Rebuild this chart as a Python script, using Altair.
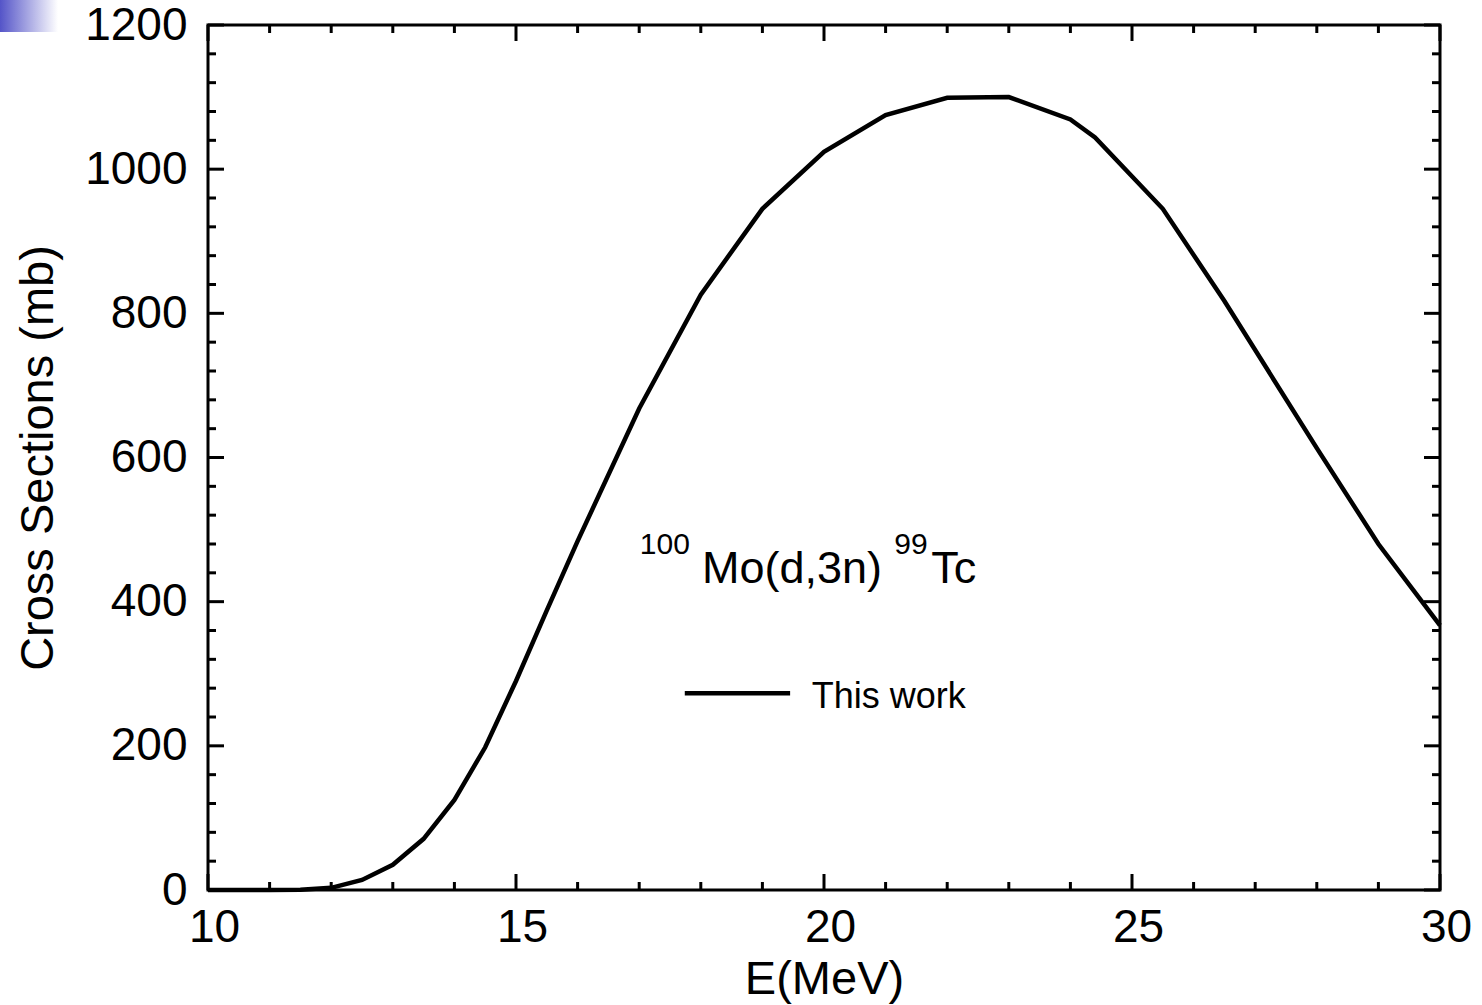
import altair as alt
import pandas as pd

# ---- data ----
energy = [10, 10.5, 11, 11.5, 12, 12.5, 13, 13.5, 14, 14.5, 15, 15.5, 16, 17, 18,
          19, 20, 21, 22, 23, 24, 24.4, 25.5, 26.5, 28, 29, 30]
sigma = [0, 0, 0, 0.5, 3, 14, 35, 71, 125, 198, 290, 388, 484, 668, 826,
         945, 1024, 1075, 1099, 1100, 1069, 1044, 945, 817, 613, 480, 367]

x_major = [10, 15, 20, 25, 30]
x_minor = [11, 12, 13, 14, 16, 17, 18, 19, 21, 22, 23, 24, 26, 27, 28, 29]
y_major = [0, 200, 400, 600, 800, 1000, 1200]
y_minor = [v for v in range(40, 1200, 40) if v % 200 != 0]

ann_text = ["100", "Mo(d,3n)", "99", "Tc"]
ann_x = [17.01, 18.02, 21.14, 21.74]
ann_y = [466, 426, 466, 426]
ann_size = [30, 45, 30, 45]

legend_label = "This work"

W, H = 1232, 865
FONT = "Liberation Sans"

xs = alt.Scale(domain=[10, 30], nice=False, zero=False)
ys = alt.Scale(domain=[0, 1200], nice=False)

curve = pd.DataFrame({"E": energy, "sigma": sigma})

line = alt.Chart(curve).mark_line(color="black", strokeWidth=4.5, strokeJoin="miter").encode(
    x=alt.X("E:Q", scale=xs,
            axis=alt.Axis(values=x_major, format="d", title="E(MeV)", ticks=False, domain=False,
                          grid=False, labelFlush=False, labelOverlap=False, labelOffset=6,
                          labelFontSize=46, labelFont=FONT, labelColor="black", labelPadding=15,
                          titleFontSize=47, titleFont=FONT, titleFontWeight="normal",
                          titleColor="black", titlePadding=6)),
    y=alt.Y("sigma:Q", scale=ys,
            axis=alt.Axis(values=y_major, format="d", title="Cross Sections (mb)", ticks=False,
                          domain=False, grid=False, labelFlush=False, labelOverlap=False,
                          labelFontSize=46, labelFont=FONT, labelColor="black",
                          labelPadding=21, titleFontSize=47, titleFont=FONT,
                          titleFontWeight="normal", titleColor="black", titlePadding=22)),
)

def xticks(vals, length):
    df = pd.DataFrame({"E": vals})
    bottom = alt.Chart(df).mark_rule(color="black", strokeWidth=3).encode(
        x=alt.X("E:Q", scale=xs), y=alt.value(H), y2=alt.value(H - length))
    top = alt.Chart(df).mark_rule(color="black", strokeWidth=3).encode(
        x=alt.X("E:Q", scale=xs), y=alt.value(0), y2=alt.value(length))
    return [bottom, top]

def yticks(vals, length):
    df = pd.DataFrame({"sigma": vals})
    left = alt.Chart(df).mark_rule(color="black", strokeWidth=3).encode(
        y=alt.Y("sigma:Q", scale=ys), x=alt.value(0), x2=alt.value(length))
    right = alt.Chart(df).mark_rule(color="black", strokeWidth=3).encode(
        y=alt.Y("sigma:Q", scale=ys), x=alt.value(W), x2=alt.value(W - length))
    return [left, right]

ticks = xticks(x_major, 16) + xticks(x_minor, 8) + yticks(y_major, 16) + yticks(y_minor, 8)

ann = pd.DataFrame({"t": ann_text, "E": ann_x, "sigma": ann_y, "s": ann_size})
ann_layers = []
for i in range(len(ann_text)):
    ann_layers.append(
        alt.Chart(ann.iloc[[i]]).mark_text(align="left", baseline="alphabetic", font=FONT,
                                           fontSize=ann_size[i], color="black").encode(
            x=alt.X("E:Q", scale=xs), y=alt.Y("sigma:Q", scale=ys), text="t:N"))

leg_line = alt.Chart(pd.DataFrame({"E": [17.74], "E2": [19.45], "sigma": [273]})).mark_rule(
    color="black", strokeWidth=4.5).encode(
    x=alt.X("E:Q", scale=xs), x2="E2:Q", y=alt.Y("sigma:Q", scale=ys))
leg_text = alt.Chart(pd.DataFrame({"E": [19.80], "sigma": [253], "t": [legend_label]})).mark_text(
    align="left", baseline="alphabetic", font=FONT, fontSize=36, color="black").encode(
    x=alt.X("E:Q", scale=xs), y=alt.Y("sigma:Q", scale=ys), text="t:N")

# slide-template corner decoration (blue gradient square)
corner = alt.Chart(pd.DataFrame({"a": [0]})).mark_rect(
    color=alt.LinearGradient(gradient="linear",
                             stops=[alt.GradientStop(color="#5454c8", offset=0),
                                    alt.GradientStop(color="#ffffff", offset=1)],
                             x1=0, x2=1, y1=0, y2=0)).encode(
    x=alt.value(-208), x2=alt.value(-150), y=alt.value(-25), y2=alt.value(7))

chart = alt.layer(line, *ticks, *ann_layers, leg_line, leg_text, corner).properties(
    width=W, height=H,
    autosize=alt.AutoSizeParams(type="none"),
    padding={"left": 208, "top": 25, "right": 42, "bottom": 115},
    background="white",
).configure_view(stroke="black", strokeWidth=3)

chart.save("out.html", embed_options={"renderer": "svg", "actions": False})
